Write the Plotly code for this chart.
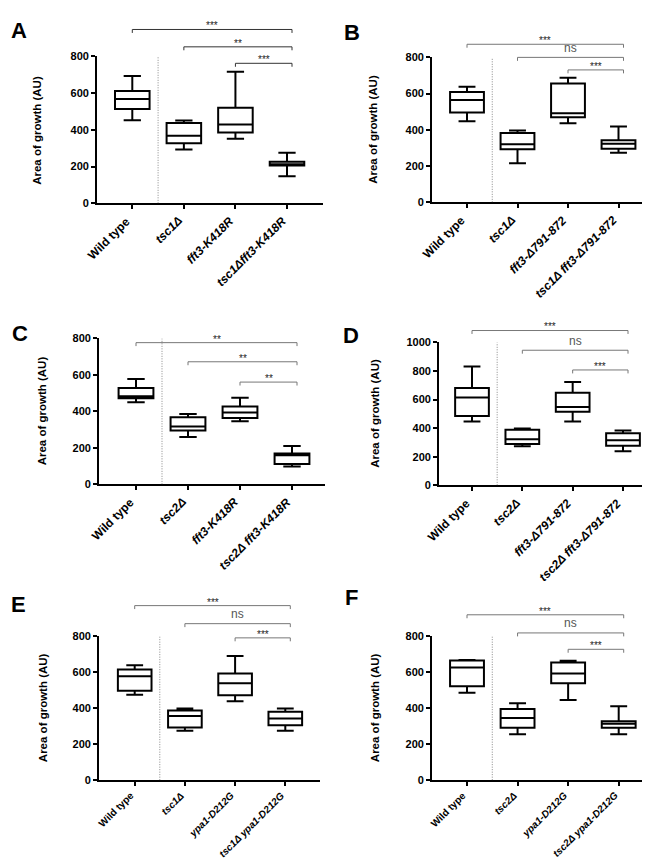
import plotly.graph_objects as go

# ---------------- data ----------------
A_labels = ["Wild type", "tsc1Δ", "fft3-K418R", "tsc1Δfft3-K418R"]
A_italic = [False, True, True, True]
A_upper = [693, 451, 716, 275]
A_q3 = [611, 438, 521, 227]
A_median = [568, 368, 429, 213]
A_q1 = [514, 327, 385, 206]
A_lower = [452, 293, 351, 147]
A_sig = ["***", "**", "***"]

B_labels = ["Wild type", "tsc1Δ", "fft3-Δ791-872", "tsc1Δ fft3-Δ791-872"]
B_italic = [False, True, True, True]
B_upper = [638, 396, 687, 418]
B_q3 = [609, 383, 656, 342]
B_median = [565, 320, 492, 323]
B_q1 = [496, 293, 469, 296]
B_lower = [447, 216, 436, 274]
B_sig = ["***", "ns", "***"]

C_labels = ["Wild type", "tsc2Δ", "fft3-K418R", "tsc2Δ fft3-K418R"]
C_italic = [False, True, True, True]
C_upper = [578, 385, 475, 210]
C_q3 = [528, 368, 427, 169]
C_median = [483, 317, 394, 160]
C_q1 = [472, 295, 364, 111]
C_lower = [450, 259, 346, 98]
C_sig = ["**", "**", "**"]

D_labels = ["Wild type", "tsc2Δ", "fft3-Δ791-872", "tsc2Δ fft3-Δ791-872"]
D_italic = [False, True, True, True]
D_upper = [831, 397, 723, 383]
D_q3 = [681, 388, 647, 365]
D_median = [614, 323, 547, 316]
D_q1 = [485, 289, 515, 277]
D_lower = [446, 273, 446, 238]
D_sig = ["***", "ns", "***"]

E_labels = ["Wild type", "tsc1Δ", "ypa1-D212G", "tsc1Δ ypa1-D212G"]
E_italic = [False, True, True, True]
E_upper = [639, 398, 690, 398]
E_q3 = [615, 387, 592, 380]
E_median = [577, 356, 539, 342]
E_q1 = [497, 292, 472, 305]
E_lower = [475, 274, 438, 274]
E_sig = ["***", "ns", "***"]

F_labels = ["Wild type", "tsc2Δ", "ypa1-D212G", "tsc2Δ ypa1-D212G"]
F_italic = [False, True, True, True]
F_upper = [668, 428, 663, 410]
F_q3 = [665, 395, 654, 328]
F_median = [626, 346, 592, 313]
F_q1 = [522, 291, 539, 291]
F_lower = [486, 255, 446, 255]
F_sig = ["***", "ns", "***"]

y_ticks_800 = [0, 200, 400, 600, 800]
y_ticks_1000 = [0, 200, 400, 600, 800, 1000]
y_title = "Area of growth (AU)"

# ---------------- layout geometry (pixels) ----------------
W, H = 650, 859
FONT = "Arial, 'Liberation Sans', sans-serif"

panels = [
    dict(name="A", labels=A_labels, it=A_italic, up=A_upper, q3=A_q3, med=A_median, q1=A_q1, lo=A_lower, sig=A_sig,
         left=89, right=315, c0=124.3, c3=279, ytop=43, ybot=192, ymax=800, ticks=y_ticks_800,
         bry=[15.7, 33.3, 50], brc="#333333", letter=(1, 2), titlex=29, lab_fs=12, lab_dy=8),
    dict(name="B", labels=B_labels, it=B_italic, up=B_upper, q3=B_q3, med=B_median, q1=B_q1, lo=B_lower, sig=B_sig,
         left=424, right=640, c0=459, c3=610.5, ytop=44, ybot=191, ymax=800, ticks=y_ticks_800,
         bry=[30.7, 44, 56.7], brc="#777777", letter=(334, 4), titlex=365, lab_fs=12, lab_dy=8),
    dict(name="C", labels=C_labels, it=C_italic, up=C_upper, q3=C_q3, med=C_median, q1=C_q1, lo=C_lower, sig=C_sig,
         left=91, right=317, c0=128, c3=284, ytop=329, ybot=477, ymax=800, ticks=y_ticks_800,
         bry=[333.3, 352.7, 373.3], brc="#777777", letter=(2, 309), titlex=34, lab_fs=12, lab_dy=8),
    dict(name="D", labels=D_labels, it=D_italic, up=D_upper, q3=D_q3, med=D_median, q1=D_q1, lo=D_lower, sig=D_sig,
         left=431, right=648, c0=464, c3=615, ytop=333, ybot=478, ymax=1000, ticks=y_ticks_1000,
         bry=[321, 341, 361], brc="#777777", letter=(333, 311), titlex=367, lab_fs=12, lab_dy=8),
    dict(name="E", labels=E_labels, it=E_italic, up=E_upper, q3=E_q3, med=E_median, q1=E_q1, lo=E_lower, sig=E_sig,
         left=91, right=312, c0=126.7, c3=277.3, ytop=631, ybot=777, ymax=800, ticks=y_ticks_800,
         bry=[600, 618.3, 632.7], brc="#777777", letter=(1, 584), titlex=35, lab_fs=10, lab_dy=7),
    dict(name="F", labels=F_labels, it=F_italic, up=F_upper, q3=F_q3, med=F_median, q1=F_q1, lo=F_lower, sig=F_sig,
         left=424, right=645, c0=459, c3=610.7, ytop=631, ybot=777, ymax=800, ticks=y_ticks_800,
         bry=[609.3, 627.7, 644.3], brc="#777777", letter=(335, 577), titlex=367, lab_fs=10, lab_dy=7),
]


def px(x):
    return x / W


def py(y):
    return 1 - y / H


fig = go.Figure()
shapes = []
annotations = []
layout_axes = {}

for k, p in enumerate(panels, start=1):
    xa = "x" if k == 1 else f"x{k}"
    ya = "y" if k == 1 else f"y{k}"
    s = (p["c3"] - p["c0"]) / 3.0
    xr = [(p["left"] - p["c0"]) / s, (p["right"] - p["c0"]) / s]
    n = len(p["labels"])
    xs = list(range(n))

    fig.add_trace(go.Box(
        x=xs, q1=p["q1"], median=p["med"], q3=p["q3"],
        lowerfence=p["lo"], upperfence=p["up"],
        width=0.67, whiskerwidth=0.5, boxpoints=False,
        fillcolor="white", line=dict(color="black", width=2),
        xaxis=xa, yaxis=ya, showlegend=False, hoverinfo="skip",
    ))

    layout_axes["xaxis" if k == 1 else f"xaxis{k}"] = dict(
        domain=[px(p["left"]), px(p["right"])], range=xr, anchor=ya,
        tickmode="array", tickvals=xs, showticklabels=False,
        ticks="outside", ticklen=4, tickwidth=1.5, tickcolor="black",
        showline=True, linecolor="black", linewidth=1.8,
        showgrid=False, zeroline=False, fixedrange=True,
    )
    layout_axes["yaxis" if k == 1 else f"yaxis{k}"] = dict(
        domain=[py(p["ybot"]), py(p["ytop"])], range=[0, p["ymax"]], anchor=xa,
        tickmode="array", tickvals=p["ticks"], ticktext=[str(t) for t in p["ticks"]],
        ticks="outside", ticklen=4, tickwidth=1.5, tickcolor="black",
        showline=True, linecolor="black", linewidth=1.8,
        showgrid=False, zeroline=False, fixedrange=True,
        tickfont=dict(family=FONT, size=11, color="black", weight="bold"),
    )

    # rotated category labels (top-right corner just below each tick)
    for i, (lab, it) in enumerate(zip(p["labels"], p["it"])):
        txt = f"<b><i>{lab}</i></b>" if it else f"<b>{lab}</b>"
        annotations.append(dict(xref="paper", yref="paper",
                                x=px(p["c0"] + i * s + 4), y=py(p["ybot"] + p["lab_dy"]),
                                text=txt, textangle=-45, showarrow=False,
                                xanchor="right", yanchor="top",
                                font=dict(family=FONT, size=p["lab_fs"], color="black")))

    # dotted separator between wild type and mutants
    shapes.append(dict(type="line", xref=xa, yref=ya, x0=0.5, x1=0.5, y0=0, y1=p["ymax"],
                       line=dict(color="#888888", width=1, dash="1px,1.5px")))

    # significance brackets
    right_px = p["c3"] + 5
    for j, (lab, ypx) in enumerate(zip(p["sig"], p["bry"])):
        lx = p["c0"] + j * s
        shapes.append(dict(type="path", xref="paper", yref="paper",
                           path=f"M {px(lx)} {py(ypx + 3.5)} L {px(lx)} {py(ypx)} L {px(right_px)} {py(ypx)} L {px(right_px)} {py(ypx + 3.5)}",
                           line=dict(color=p["brc"], width=1)))
        if lab == "ns":
            annotations.append(dict(xref="paper", yref="paper", x=px((lx + right_px) / 2), y=py(ypx - 0.5),
                                    text="ns", showarrow=False, xanchor="center", yanchor="bottom",
                                    font=dict(family=FONT, size=12, color="#555555")))
        else:
            annotations.append(dict(xref="paper", yref="paper", x=px((lx + right_px) / 2), y=py(ypx + 4),
                                    text=lab, showarrow=False, xanchor="center", yanchor="bottom",
                                    font=dict(family=FONT, size=10, color="#222222")))

    # y-axis title
    annotations.append(dict(xref="paper", yref="paper", x=px(p["titlex"]), y=py((p["ytop"] + p["ybot"]) / 2),
                            text=f"<b>{y_title}</b>", textangle=-90, showarrow=False,
                            xanchor="center", yanchor="middle",
                            font=dict(family=FONT, size=11.5, color="black")))
    # panel letter
    lx0, ly0 = p["letter"]
    annotations.append(dict(xref="paper", yref="paper", x=px(lx0), y=py(ly0), text=f"<b>{p['name']}</b>",
                            showarrow=False, xanchor="left", yanchor="top",
                            font=dict(family=FONT, size=22, color="black")))

fig.update_layout(
    width=W, height=H, margin=dict(l=0, r=0, t=0, b=0),
    paper_bgcolor="white", plot_bgcolor="white",
    shapes=shapes, annotations=annotations, **layout_axes,
)

fig.write_html("out.html")
